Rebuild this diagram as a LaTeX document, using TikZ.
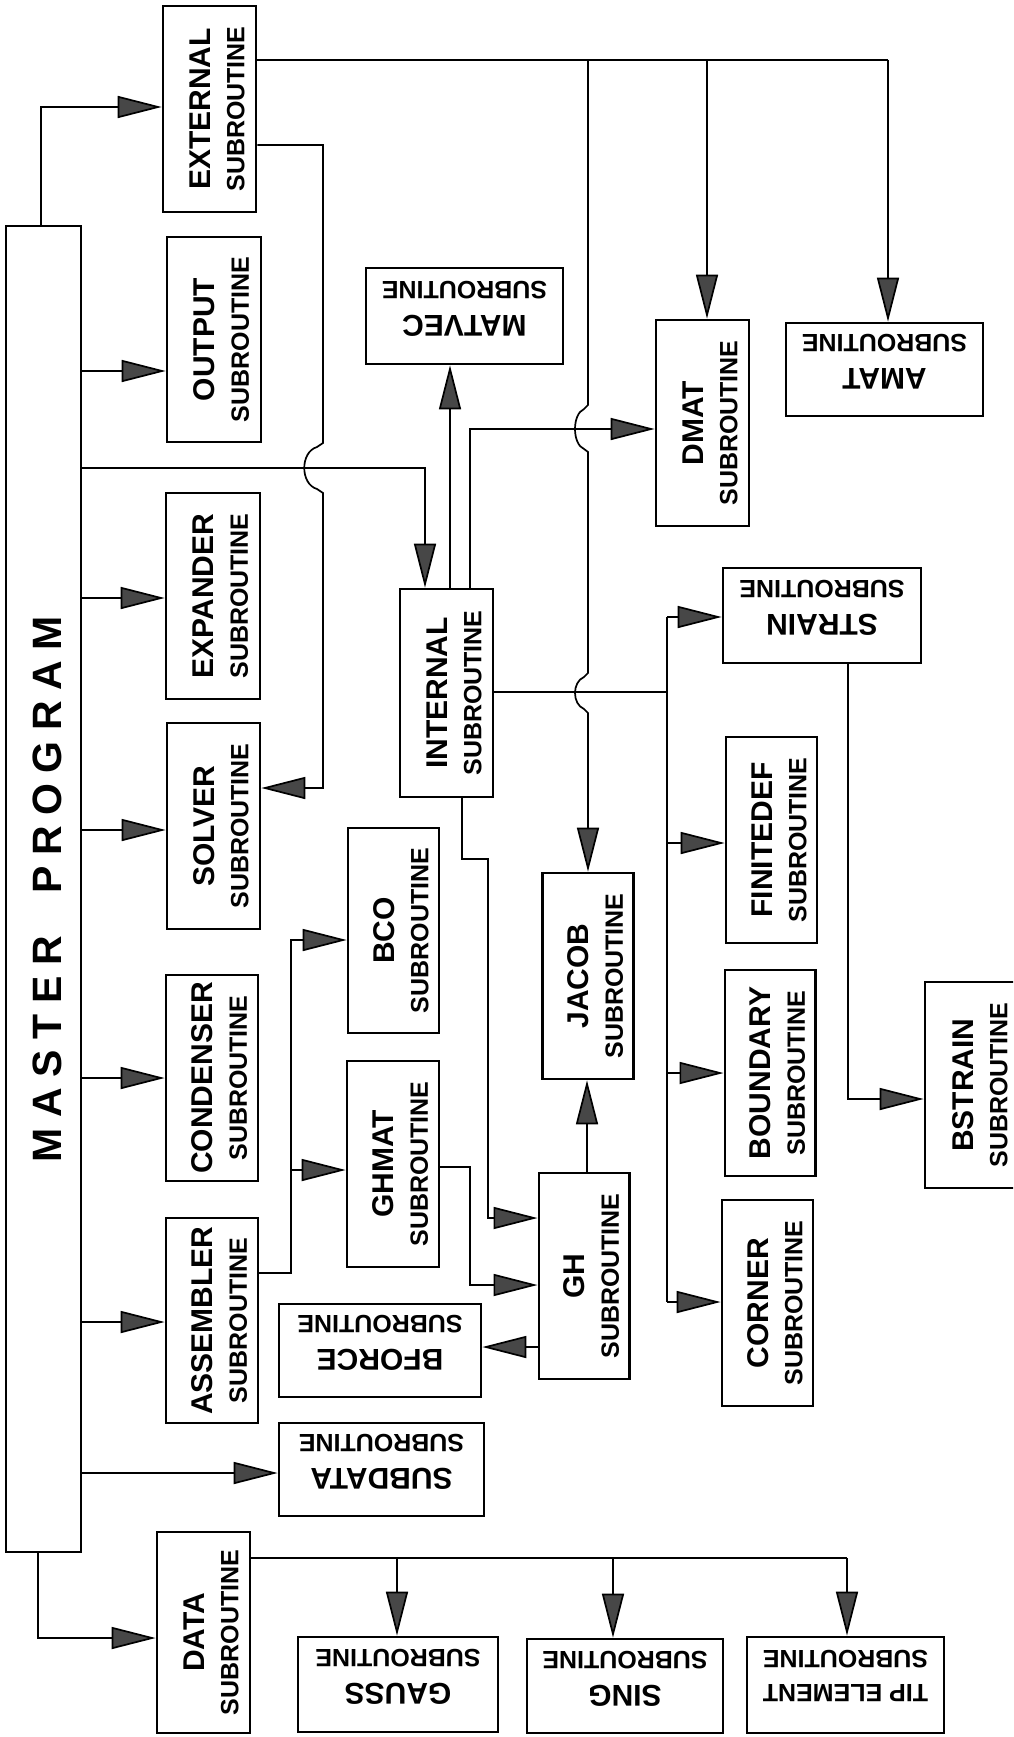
\documentclass[tikz,border=0pt]{standalone}
\usepackage{fontspec}
\setmainfont{Liberation Sans}
\usepackage{graphicx}
\usetikzlibrary{arrows.meta}

% two-line subroutine label: name on top, SUBROUTINE below
\newcommand\boxtext[2][30]{%
  \begin{tabular}{@{}c@{}}\rule{0pt}{46pt}\fontsize{#1}{34}\selectfont #2\\
  \fontsize{25}{34}\selectfont SUBROUTINE\end{tabular}}
\newcommand\vtext[2][30]{\rotatebox{90}{\boxtext[#1]{#2}}}
\newcommand\utext[2][30]{\rotatebox{180}{\boxtext[#1]{#2}}}

\begin{document}
\begin{tikzpicture}[x=1pt,y=-1pt,
  box/.style={draw, line width=2.8pt, inner sep=0pt, fill=white,
    font=\fontsize{30}{34}\selectfont\bfseries},
  sz/.style 2 args={minimum width=#1pt, minimum height=#2pt},
  wire/.style={line width=1.7pt},
  arr/.style={wire, -{Triangle[length=44pt,width=22pt,fill=black!72]}}]

\useasboundingbox (0,0) rectangle (1013,1737);
\clip (0,0) rectangle (1013,1737);
\fill[white] (0,0) rectangle (1013,1737);

% main program column
\node[box, sz={75}{1326}] (master) at (43.5,889)
  {\hspace*{7pt}\rotatebox{90}{\fontsize{41}{44}\selectfont\bfseries
   \makebox[546pt][s]{M\hfill A\hfill S\hfill T\hfill E\hfill R\hfill\hfill\hfill\hfill
   P\hfill R\hfill O\hfill G\hfill R\hfill A\hfill M}}};

% first level subroutines
\node[box, sz={93}{206}] (ext)  at (209.5,109)  {\vtext{EXTERNAL}};
\node[box, sz={94}{205}] (out)  at (214,339.5)  {\vtext{OUTPUT}};
\node[box, sz={94}{206}] (expd) at (213,596)    {\vtext{EXPANDER}};
\node[box, sz={93}{206}] (solv) at (213.5,826)  {\vtext{SOLVER}};
\node[box, sz={92}{206}] (cond) at (212,1078)   {\vtext{CONDENSER}};
\node[box, sz={92}{205}] (asm)  at (212,1320.5) {\vtext{ASSEMBLER}};
\node[box, sz={93}{201}] (data) at (203.5,1632.5) {\vtext{DATA}};

% second and third level subroutines
\node[box, sz={197}{96}] (mat)   at (464.5,316)  {\utext{MATVEC}};
\node[box, sz={93}{208}] (int)   at (446.5,693)  {\vtext{INTERNAL}};
\node[box, sz={91}{205}] (bco)   at (393.5,930.5) {\vtext{BCO}};
\node[box, sz={92}{206}] (ghmat) at (393,1164)   {\vtext{GHMAT}};
\node[box, sz={202}{93}] (bf)    at (380,1350.5) {\utext{BFORCE}};
\node[box, sz={205}{93}] (subd)  at (381.5,1469.5) {\utext{SUBDATA}};
\node[box, sz={200}{95}] (gauss) at (398,1684.5) {\utext{GAUSS}};
\node[box, sz={93}{206}] (dmat)  at (702.5,423)  {\vtext{DMAT}};
\node[box, sz={197}{93}] (amat)  at (884.5,369.5) {\utext{AMAT}};
\node[box, sz={91}{206}] (jacob) at (588,976)    {\vtext{JACOB}};
\node[box, sz={90}{206}] (gh)    at (584,1276)   {\vtext{GH}};
\node[box, sz={198}{95}] (strain) at (822,615.5) {\utext{STRAIN}};
\node[box, sz={91}{206}] (fdef)  at (771.5,840)  {\vtext{FINITEDEF}};
\node[box, sz={90}{206}] (bnd)   at (770,1073)   {\vtext{BOUNDARY}};
\node[box, sz={91}{206}] (crn)   at (767.5,1303) {\vtext{CORNER}};
\node[box, sz={95}{206}] (bstr)  at (972.5,1085) {\vtext{BSTRAIN}};
\node[box, sz={196}{94}] (sing)  at (625,1686)   {\utext{SING}};
\node[box, sz={197}{96}] (tip)   at (845.5,1685) {\utext[25]{TIP ELEMENT}};

% calls from the main program
\draw[arr] (master.north -| 41,0) -- (41,107) -- (ext.west |- 0,107);
\draw[arr] (master.east |- 0,371)  -- (out.west |- 0,371);
\draw[arr] (master.east |- 0,598)  -- (expd.west |- 0,598);
\draw[arr] (master.east |- 0,830)  -- (solv.west |- 0,830);
\draw[arr] (master.east |- 0,1078) -- (cond.west |- 0,1078);
\draw[arr] (master.east |- 0,1322) -- (asm.west |- 0,1322);
\draw[arr] (master.east |- 0,1473) -- (subd.west |- 0,1473);
\draw[arr] (master.east |- 0,468) -- (425,468) -- (int.north -| 425,0);
\draw[arr] (master.south -| 38,0) -- (38,1638) -- (data.west |- 0,1638);

% EXTERNAL
\draw[wire] (ext.east |- 0,60) -- (888,60);
\draw[arr] (707,60) -- (dmat.north -| 707,0);
\draw[arr] (888,60) -- (amat.north -| 888,0);
\draw[arr] (588,60) -- (588,405) -- (584,409)
  .. controls (572,414) and (572,444) .. (584,449) -- (588,452)
  -- (588,673) -- (584,677)
  .. controls (572,682) and (572,704) .. (584,709) -- (588,713)
  -- (jacob.north);
\draw[arr] (ext.east |- 0,145) -- (323,145) -- (323,443) -- (317,447)
  .. controls (300,452) and (300,484) .. (317,489) -- (323,493)
  -- (323,788) -- (solv.east |- 0,788);

% INTERNAL
\draw[arr] (int.north -| 450,0) -- (mat.south -| 450,0);
\draw[arr] (int.north -| 470,0) -- (470,429) -- (dmat.west |- 0,429);
\draw[wire] (int.east |- 0,692) -- (667,692);
\draw[wire] (667,617) -- (667,1302);
\draw[arr] (667,617)  -- (strain.west |- 0,617);
\draw[arr] (667,843)  -- (fdef.west |- 0,843);
\draw[arr] (667,1073) -- (bnd.west |- 0,1073);
\draw[arr] (667,1302) -- (crn.west |- 0,1302);
\draw[arr] (strain.south -| 848,0) -- (848,1099) -- (bstr.west |- 0,1099);
\draw[arr] (int.south -| 462,0) -- (462,859) -- (488,859) -- (488,1218)
  -- (gh.west |- 0,1218);

% GH and its callers
\draw[arr] (ghmat.east |- 0,1167) -- (470,1167) -- (470,1285) -- (gh.west |- 0,1285);
\draw[arr] (gh.north -| 587,0) -- (jacob.south -| 587,0);
\draw[arr] (gh.west |- 0,1347) -- (bf.east |- 0,1347);

% ASSEMBLER
\draw[arr] (asm.east |- 0,1273) -- (291,1273) -- (291,940) -- (bco.west |- 0,940);
\draw[arr] (291,1170) -- (ghmat.west |- 0,1170);

% DATA
\draw[wire] (data.east |- 0,1558) -- (847,1558);
\draw[arr] (397,1558) -- (gauss.north -| 397,0);
\draw[arr] (613,1558) -- (sing.north -| 613,0);
\draw[arr] (847,1558) -- (tip.north -| 847,0);
\end{tikzpicture}
\end{document}
